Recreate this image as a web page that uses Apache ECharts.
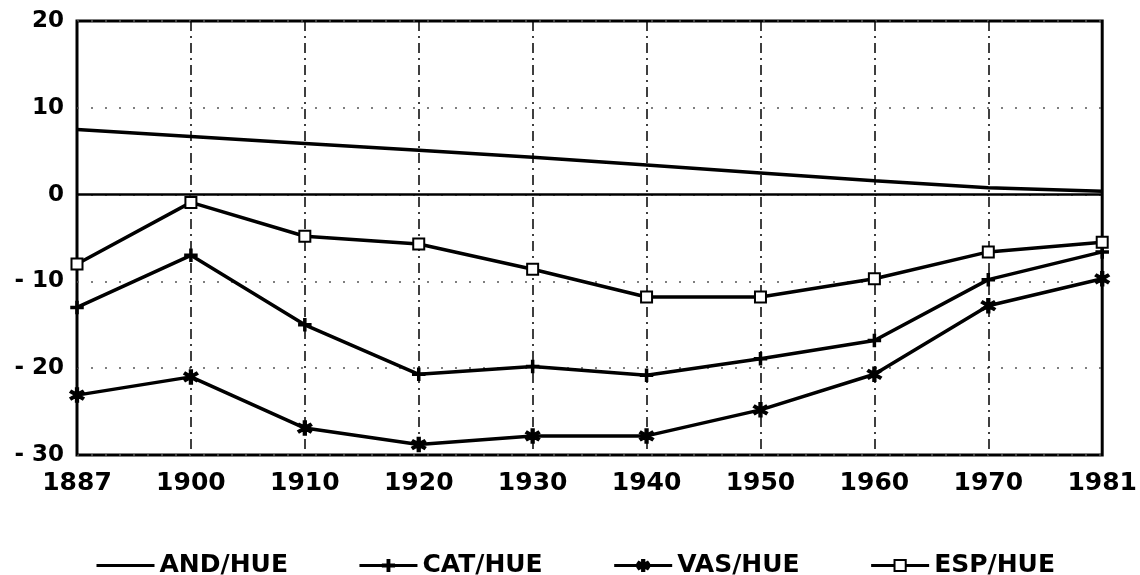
<!DOCTYPE html>
<html>
<head>
<meta charset="utf-8">
<script src="https://cdn.jsdelivr.net/npm/echarts@6/dist/echarts.min.js"></script>
<style>
  html, body { margin: 0; padding: 0; background: #fff; }
  #chart { width: 1140px; height: 575px; }
</style>
</head>
<body>
<div id="chart"></div>
<script>
// años del eje x
const years = ["1887", "1900", "1910", "1920", "1930", "1940", "1950", "1960", "1970", "1981"];

// series
const andHue = [7.5, 6.7, 5.9, 5.1, 4.3, 3.4, 2.5, 1.6, 0.8, 0.4];
const catHue = [-13, -7, -15, -20.7, -19.8, -20.8, -18.9, -16.8, -9.8, -6.6];
const vasHue = [-23.1, -21, -26.9, -28.8, -27.8, -27.8, -24.8, -20.7, -12.8, -9.7];
const espHue = [-8, -0.9, -4.8, -5.7, -8.6, -11.8, -11.8, -9.7, -6.6, -5.5];

const yTicks = [-30, -20, -10, 0, 10, 20];
const legendNames = ["AND/HUE", "CAT/HUE", "VAS/HUE", "ESP/HUE"];

const font = "DejaVu Sans";
const plusPath = "path://M5 0h2v5h5v2h-5v5h-2v-5h-5v-2h5z";
const starPath = "path://M5 0h2v4l3-2 1 1.7-3.3 2.3 3.3 2.3-1 1.7-3-2v4h-2v-4l-3 2-1-1.7 3.3-2.3-3.3-2.3 1-1.7 3 2z";

const chart = echarts.init(document.getElementById("chart"));

const mkSeries = (name, data, symbol, size, extra = {}) => ({
  name,
  type: "line",
  data,
  symbol,
  symbolSize: size,
  itemStyle: { color: "#000", borderColor: "#000", borderWidth: 1.5 },
  lineStyle: { color: "#000", width: 3.5 },
  ...extra
});

chart.setOption({
  animation: false,
  grid: {
    left: 77, right: 30, top: 21, bottom: 120,
    show: true, borderColor: "#000", borderWidth: 3
  },
  legend: {
    top: 548,
    left: 90,
    itemWidth: 58,
    itemHeight: 14,
    itemGap: 70,
    lineStyle: { width: 3 },
    textStyle: { fontFamily: font, fontWeight: "bold", fontSize: 25, color: "#000" },
    data: legendNames.map((n, i) => (i === 0 ? { name: n, itemStyle: { opacity: 0 } } : n))
  },
  xAxis: {
    type: "category",
    data: years,
    boundaryGap: false,
    axisLine: { show: false },
    axisTick: { show: false },
    axisLabel: {
      margin: 16, color: "#000", fontFamily: font, fontWeight: "bold", fontSize: 25
    },
    splitLine: {
      show: true,
      lineStyle: { color: "#000", width: 1.5, type: [10, 5, 2, 5] }
    }
  },
  yAxis: {
    type: "value",
    min: yTicks[0],
    max: yTicks[yTicks.length - 1],
    interval: 10,
    axisLine: { show: false },
    axisTick: { show: false },
    axisLabel: {
      margin: 13, color: "#000", fontFamily: font, fontWeight: "bold", fontSize: 23,
      formatter: v => (v < 0 ? "- " + Math.abs(v) : String(v))
    },
    splitLine: {
      show: true,
      lineStyle: { color: "#555", width: 1.5, type: [2, 12] }
    }
  },
  series: [
    mkSeries("AND/HUE", andHue, "none", 0, {
      markLine: {
        silent: true,
        symbol: "none",
        label: { show: false },
        lineStyle: { color: "#000", width: 2.5, type: "solid" },
        data: [{ yAxis: 0 }]
      }
    }),
    mkSeries("CAT/HUE", catHue, plusPath, 12),
    mkSeries("VAS/HUE", vasHue, starPath, 14),
    mkSeries("ESP/HUE", espHue, "emptyRect", 11, {
      itemStyle: { color: "#000", borderColor: "#000", borderWidth: 2.5 }
    })
  ]
});
</script>
</body>
</html>
